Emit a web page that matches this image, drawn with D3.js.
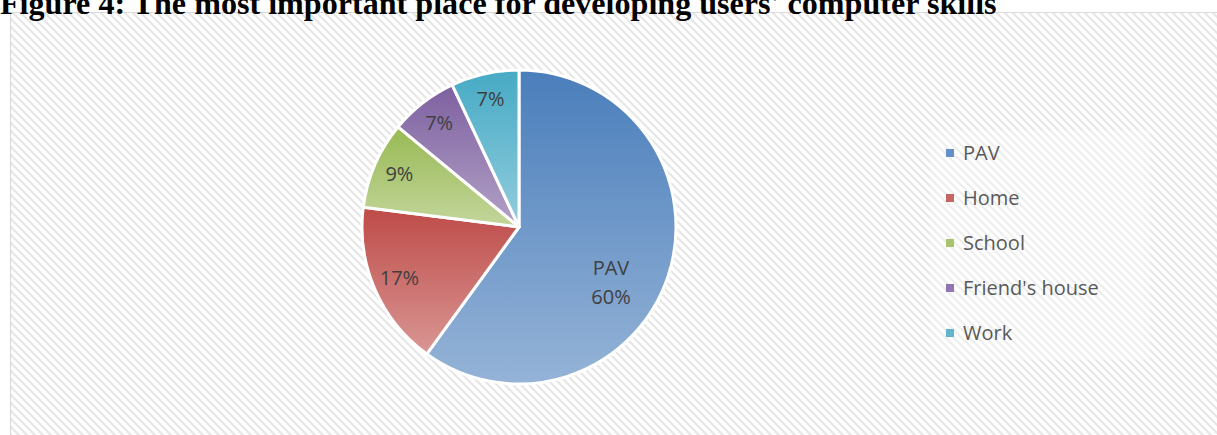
<!DOCTYPE html>
<html><head><meta charset="utf-8">
<script src="https://cdn.jsdelivr.net/npm/d3@7"></script>
<style>html,body{margin:0;padding:0;background:#fff;overflow:hidden}</style>
</head><body>
<svg id="c" width="1217" height="435"></svg>
<script>
const categories = ["PAV", "Home", "School", "Friend's house", "Work"];
const values = [60, 17, 9, 7, 7];
const topColors = ["#4a7ebb", "#be4b48", "#98b954", "#7d60a0", "#46aac5"];
const bottomColors = ["#95b3d7", "#d99694", "#c3d69b", "#b3a2c7", "#93cddd"];
const title = "Figure 4: The most important place for developing users' computer skills";

const svg = d3.select("#c");
const defs = svg.append("defs");
const pat = defs.append("pattern").attr("id", "diag").attr("patternUnits", "userSpaceOnUse")
  .attr("width", 8).attr("height", 8);
pat.append("rect").attr("width", 8).attr("height", 8).attr("fill", "#ffffff");
pat.append("path").attr("d", "M0,0 L1.5,0 L8,6.5 L8,8 L6.5,8 L0,1.5 Z M6.5,0 L8,0 L8,1.5 Z M0,6.5 L1.5,8 L0,8 Z").attr("fill", "#e6e6e6");

// chart area
svg.append("rect").attr("x", 10.5).attr("y", 12.5).attr("width", 1230).attr("height", 440)
  .attr("fill", "url(#diag)").attr("stroke", "#d9d9d9").attr("stroke-width", 1);

// title
const t = svg.append("text").attr("x", 0).attr("y", 14)
  .attr("font-family", "Liberation Serif, Times New Roman, serif").attr("font-weight", "bold")
  .attr("font-size", 24).attr("fill", "#000").text(title);
const w = t.node().getComputedTextLength();
t.attr("font-size", 24 * 997 / w);

// legend backdrop
svg.append("rect").attr("x", 930).attr("y", 130).attr("width", 220).attr("height", 230)
  .attr("fill", "#ffffff").attr("opacity", 0.3);

// pie
const cx = 519, cy = 227, R = 157;
const pie = d3.pie().sort(null).value(d => d)(values);
const arc = d3.arc().innerRadius(0).outerRadius(R);
const g = svg.append("g").attr("transform", `translate(${cx},${cy})`);

pie.forEach((p, i) => {
  let xs = [0], ys = [0];
  for (let k = 0; k <= 60; k++) {
    const a = p.startAngle + (p.endAngle - p.startAngle) * k / 60;
    xs.push(R * Math.sin(a)); ys.push(-R * Math.cos(a));
  }
  const grad = defs.append("linearGradient").attr("id", "g" + i).attr("gradientUnits", "userSpaceOnUse")
    .attr("x1", 0).attr("y1", d3.min(ys)).attr("x2", 0).attr("y2", d3.max(ys));
  grad.append("stop").attr("offset", "0%").attr("stop-color", topColors[i]);
  grad.append("stop").attr("offset", "100%").attr("stop-color", bottomColors[i]);
});

g.selectAll("path.slice").data(pie).join("path").attr("class", "slice")
  .attr("d", arc)
  .attr("fill", (d, i) => `url(#g${i})`)
  .attr("stroke", "#ffffff").attr("stroke-width", 3).attr("stroke-linejoin", "round");

// labels
const labelFont = "Open Sans, Noto Sans, Liberation Sans, sans-serif";
const labelArc = d3.arc().innerRadius(R * 0.83).outerRadius(R * 0.83);
pie.forEach((p, i) => {
  const pct = Math.round(values[i] / d3.sum(values) * 100) + "%";
  let pos;
  if (i === 0) pos = [92, 55];
  else { pos = labelArc.centroid(p); pos[1] -= 1; }
  const lines = i === 0 ? [categories[i], pct] : [pct];
  const tx = g.append("text").attr("text-anchor", "middle")
    .attr("font-family", labelFont).attr("font-size", 20).attr("fill", "#404040");
  lines.forEach((l, j) => {
    tx.append("tspan").attr("x", pos[0]).attr("y", pos[1] + 7 + (j - (lines.length - 1) / 2) * 29).text(l);
  });
});

// legend
const lg = svg.append("g");
categories.forEach((c, i) => {
  const y = 153 + i * 45;
  lg.append("rect").attr("x", 946).attr("y", y - 4).attr("width", 8).attr("height", 8)
    .attr("fill", d3.interpolateRgb(topColors[i], bottomColors[i])(0.35));
  lg.append("text").attr("x", 963).attr("y", y + 7)
    .attr("font-family", labelFont).attr("font-size", 20).attr("fill", "#595959").text(c);
});
</script>
</body></html>
